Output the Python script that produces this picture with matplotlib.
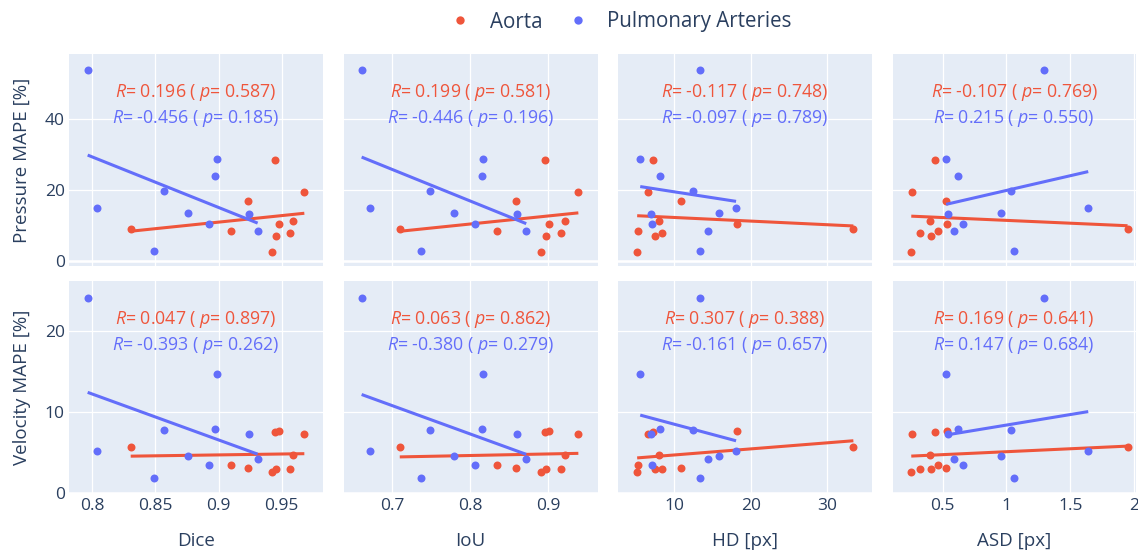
import matplotlib
matplotlib.use("Agg")
import matplotlib.pyplot as plt
from matplotlib.lines import Line2D
from matplotlib.ticker import FuncFormatter
import numpy as np

plt.rcParams['font.family'] = ['Open Sans', 'DejaVu Sans']
plt.rcParams['mathtext.fontset'] = 'custom'
plt.rcParams['mathtext.rm'] = 'Open Sans'
plt.rcParams['mathtext.it'] = 'Open Sans:italic'

# per-patient metrics, aorta
aorta_dice = [0.8304, 0.9098, 0.9236, 0.9423, 0.9447, 0.9455, 0.9476, 0.9563, 0.9593, 0.968]
aorta_iou = [0.710, 0.8346, 0.8582, 0.891, 0.8958, 0.897, 0.901, 0.9167, 0.9218, 0.9385]
aorta_hd = [33.4, 5.35, 10.96, 5.2, 7.26, 7.5, 18.2, 8.5, 8.1, 6.65]
aorta_asd = [1.948, 0.466, 0.526, 0.255, 0.4375, 0.409, 0.536, 0.325, 0.40, 0.2625]
aorta_pressure = [9.1, 8.5, 16.9, 2.7, 28.7, 7.3, 10.6, 8.1, 11.4, 19.6]
aorta_velocity = [5.6, 3.4, 3.1, 2.5, 7.45, 2.9, 7.65, 2.9, 4.6, 7.3]

# per-patient metrics, pulmonary arteries
pa_dice = [0.7963, 0.804, 0.849, 0.8565, 0.876, 0.8927, 0.8975, 0.899, 0.924, 0.931]
pa_iou = [0.6612, 0.6718, 0.7377, 0.7487, 0.7795, 0.806, 0.8146, 0.8167, 0.8599, 0.8718]
pa_hd = [13.4, 18.1, 13.4, 12.5, 15.9, 7.1, 8.2, 5.6, 7.0, 14.4]
pa_asd = [1.294, 1.64, 1.057, 1.036, 0.955, 0.656, 0.62, 0.528, 0.544, 0.588]
pa_pressure = [53.9, 15.1, 3.0, 19.8, 13.8, 10.5, 24.2, 28.8, 13.5, 8.6]
pa_velocity = [24.1, 5.2, 1.8, 7.8, 4.5, 3.4, 7.9, 14.6, 7.3, 4.1]

x_names = ['Dice', 'IoU', 'HD [px]', 'ASD [px]']
y_names = ['Pressure MAPE [%]', 'Velocity MAPE [%]']

# R / p labels: [row][col] -> (aorta, pa)
stats = [
    [(('0.196', '0.587'), ('-0.456', '0.185')),
     (('0.199', '0.581'), ('-0.446', '0.196')),
     (('-0.117', '0.748'), ('-0.097', '0.789')),
     (('-0.107', '0.769'), ('0.215', '0.550'))],
    [(('0.047', '0.897'), ('-0.393', '0.262')),
     (('0.063', '0.862'), ('-0.380', '0.279')),
     (('0.307', '0.388'), ('-0.161', '0.657')),
     (('0.169', '0.641'), ('0.147', '0.684'))],
]

x_ticks = [[0.8, 0.85, 0.9, 0.95], [0.7, 0.8, 0.9], [10, 20, 30], [0.5, 1, 1.5, 2]]
y_ticks = [[0, 20, 40], [0, 10, 20]]

aorta_x = [aorta_dice, aorta_iou, aorta_hd, aorta_asd]
pa_x = [pa_dice, pa_iou, pa_hd, pa_asd]
aorta_y = [aorta_pressure, aorta_velocity]
pa_y = [pa_pressure, pa_velocity]

RED = '#EF553B'
BLUE = '#636EFA'
BG = '#E5ECF6'
TXT = '#2a3f5f'

W, H = 1138, 553
fig = plt.figure(figsize=(W / 100, H / 100), dpi=100)

cols = [(69, 323), (343.5, 597.5), (618, 872), (893, 1135.5)]
rows = [(54, 266), (281, 494)]
xlims = [(0.7815, 0.9828), (0.638, 0.963), (2.70, 35.83), (0.112, 2.010)]
ylims = [(-1.27, 58.45), (-0.16, 26.14)]


def fit_line(ax, x, y, color):
    x = np.asarray(x)
    y = np.asarray(y)
    k, b = np.polyfit(x, y, 1)
    xs = np.array([x.min(), x.max()])
    ax.plot(xs, k * xs + b, color=color, lw=2.2, solid_capstyle='butt', zorder=4)


for r in range(2):
    for c in range(4):
        x0, x1 = cols[c]
        y0, y1 = rows[r]
        ax = fig.add_axes([x0 / W, 1 - y1 / H, (x1 - x0) / W, (y1 - y0) / H])
        ax.set_facecolor(BG)
        for s in ax.spines.values():
            s.set_visible(False)
        ax.set_xlim(*xlims[c])
        ax.set_ylim(*ylims[r])
        ax.set_xticks(x_ticks[c])
        ax.set_yticks(y_ticks[r])
        ax.grid(True, color='white', lw=0.9, zorder=0)
        ax.set_axisbelow(True)
        ax.axhline(0, color='white', lw=1.8, zorder=1)
        ax.tick_params(length=0, labelsize=12.5, labelcolor=TXT, pad=3)
        ax.xaxis.set_major_formatter(FuncFormatter(lambda v, p: '%g' % v))

        ax.scatter(aorta_x[c], aorta_y[r], s=33, color=RED, lw=0, zorder=3)
        fit_line(ax, aorta_x[c], aorta_y[r], RED)
        ax.scatter(pa_x[c], pa_y[r], s=33, color=BLUE, lw=0, zorder=5)
        fit_line(ax, pa_x[c], pa_y[r], BLUE)

        (ra, pa_), (rb, pb) = stats[r][c]
        ax.text(0.5, 0.82, r'$\it{R}$= %s ( $\it{p}$= %s)' % (ra, pa_), transform=ax.transAxes,
                ha='center', va='center', color=RED, fontsize=12.8, zorder=6)
        ax.text(0.5, 0.697, r'$\it{R}$= %s ( $\it{p}$= %s)' % (rb, pb), transform=ax.transAxes,
                ha='center', va='center', color=BLUE, fontsize=12.8, zorder=6)

        if c > 0:
            ax.tick_params(labelleft=False)
        if r == 0:
            ax.tick_params(labelbottom=False)
        else:
            ax.set_xlabel(x_names[c], fontsize=13.5, color=TXT, labelpad=13)
        if c == 0:
            ax.set_ylabel(y_names[r], fontsize=13.5, color=TXT, labelpad=10)

handles = [Line2D([], [], ls='', marker='o', ms=6, color=RED, mew=0),
           Line2D([], [], ls='', marker='o', ms=6, color=BLUE, mew=0)]
fig.legend(handles, ['Aorta', 'Pulmonary Arteries'], loc='center', ncol=2,
           bbox_to_anchor=(621 / W, 1 - 22 / H), frameon=False, fontsize=14.8,
           handlelength=1, handletextpad=0.95, columnspacing=1.2, labelcolor=TXT)

fig.savefig('out.png', dpi=100)
